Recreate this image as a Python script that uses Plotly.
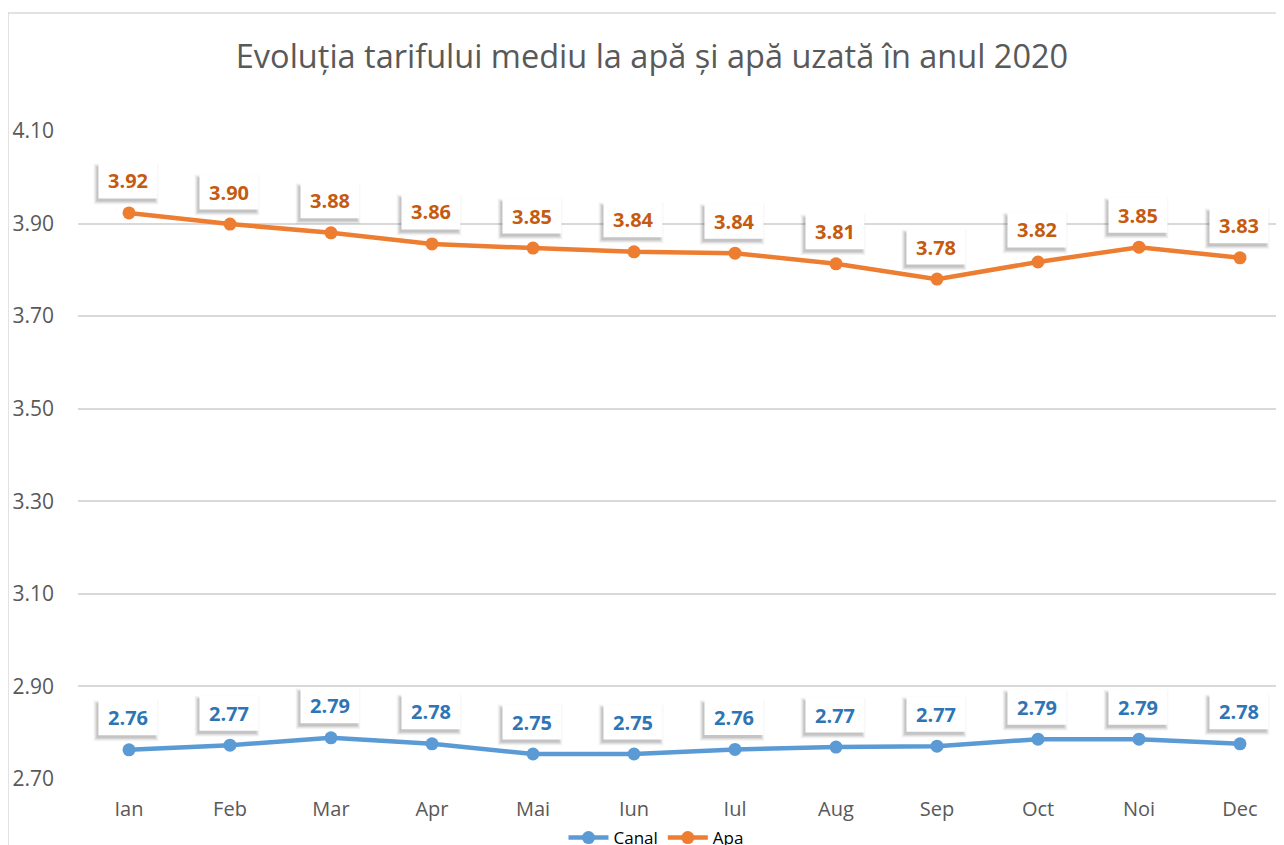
import plotly.graph_objects as go

# data
months = ["Ian", "Feb", "Mar", "Apr", "Mai", "Iun", "Iul", "Aug", "Sep", "Oct", "Noi", "Dec"]
canal = [2.763, 2.773, 2.789, 2.776, 2.754, 2.754, 2.764, 2.769, 2.771, 2.786, 2.786, 2.776]
apa = [3.923, 3.899, 3.880, 3.856, 3.847, 3.839, 3.836, 3.813, 3.780, 3.817, 3.849, 3.826]
y_ticks = [2.70, 2.90, 3.10, 3.30, 3.50, 3.70, 3.90, 4.10]

title = "Evoluția tarifului mediu la apă și apă uzată în anul 2020"

BLUE = "#5B9BD5"
ORANGE = "#ED7D31"
BLUE_TXT = "#2E75B6"
ORANGE_TXT = "#C55A11"
GREY_TXT = "#595959"
GRID = "#D9D9D9"
FONT = "Open Sans"

# the page body adds an 8px offset, so work in figure pixels.
# figure is a bit taller than the window so the legend (cut off at the
# bottom in the reference) does not push the margins.
OFF = 8
W, H = 1284 - OFF, 880
PL, PR, PT, PB = 78 - OFF, W, 131 - OFF, 779 - OFF  # plot area
STEP = 101  # pixels between categories
FIRST = 129 - OFF  # pixel of first category

# label box, in pixels relative to its point
BOX_W, BOX_H, BOX_DX, BOX_DY = 59, 35, -1, 32


def paper_x(px):
    return (px - PL) / (PR - PL)


def paper_y(py):
    return (PB - py) / (PB - PT)


fig = go.Figure()

for name, vals, col in [("Canal", canal, BLUE), ("Apa", apa, ORANGE)]:
    fig.add_trace(
        go.Scatter(
            x=list(range(len(months))),
            y=vals,
            name=name,
            mode="lines+markers",
            line=dict(color=col, width=4.5),
            marker=dict(color=col, size=13),
            hoverinfo="skip",
        )
    )

# data labels: white boxes with a soft shadow, text on top
shapes = []
annotations = []
for vals, txtcol in [(canal, BLUE_TXT), (apa, ORANGE_TXT)]:
    for i, v in enumerate(vals):
        boxes = [(3, 0.035, "rgba(0,0,0,{a})"), (2, 0.05, "rgba(0,0,0,{a})"),
                 (1, 0.07, "rgba(0,0,0,{a})"), (0, 0.09, "rgba(0,0,0,{a})")]
        for grow, a, fmt in boxes:
            cx, cy = BOX_DX - 2, BOX_DY - 3
            shapes.append(dict(
                type="rect", xref="x", yref="y",
                xsizemode="pixel", ysizemode="pixel", xanchor=i, yanchor=v,
                x0=cx - BOX_W / 2 - grow, x1=cx + BOX_W / 2 + grow,
                y0=cy - BOX_H / 2 - grow, y1=cy + BOX_H / 2 + grow,
                fillcolor=fmt.format(a=a), line=dict(width=0), layer="above",
            ))
        shapes.append(dict(
            type="rect", xref="x", yref="y",
            xsizemode="pixel", ysizemode="pixel", xanchor=i, yanchor=v,
            x0=BOX_DX - BOX_W / 2, x1=BOX_DX + BOX_W / 2,
            y0=BOX_DY - BOX_H / 2, y1=BOX_DY + BOX_H / 2,
            fillcolor="white", line=dict(width=0), layer="above",
        ))
        annotations.append(dict(
            x=i, y=v, xref="x", yref="y", text=f"{v:.2f}", showarrow=False,
            font=dict(family=FONT, size=20, color=txtcol, weight="bold"),
            xshift=BOX_DX, yshift=BOX_DY,
        ))

# chart border (top and left edges visible in the window)
shapes.append(dict(
    type="rect", xref="paper", yref="paper",
    x0=paper_x(8 - OFF), x1=paper_x(W + 20),
    y0=paper_y(H + 20), y1=paper_y(13 - OFF),
    line=dict(color=GRID, width=1.5),
    fillcolor="rgba(0,0,0,0)",
    layer="below",
))

fig.update_layout(
    width=W,
    height=H,
    margin=dict(l=PL, r=W - PR, t=PT, b=H - PB),
    plot_bgcolor="white",
    paper_bgcolor="white",
    font=dict(family=FONT, color=GREY_TXT),
    title=dict(
        text=title,
        x=paper_x(652 - OFF), xref="paper", xanchor="center",
        y=1 - (57 - OFF) / H, yanchor="middle",
        font=dict(family=FONT, size=32.5, color=GREY_TXT),
    ),
    xaxis=dict(
        tickmode="array",
        tickvals=list(range(len(months))),
        ticktext=months,
        range=[-(FIRST - PL) / STEP, (PR - FIRST) / STEP],
        showgrid=False,
        zeroline=False,
        showline=False,
        ticks="",
        ticklabelstandoff=16,
        tickfont=dict(family=FONT, size=20, color=GREY_TXT),
        fixedrange=True,
    ),
    yaxis=dict(
        tickmode="array",
        tickvals=y_ticks,
        ticktext=[f"{t:.2f}" for t in y_ticks],
        range=[2.70, 4.10],
        showgrid=True,
        gridcolor=GRID,
        gridwidth=1.5,
        zeroline=False,
        showline=False,
        ticks="",
        ticklabelstandoff=23,
        tickfont=dict(family=FONT, size=21, color=GREY_TXT),
        fixedrange=True,
    ),
    showlegend=True,
    legend=dict(
        orientation="h",
        x=paper_x(656 - OFF), xanchor="center",
        y=paper_y(838 - OFF), yanchor="middle",
        font=dict(family=FONT, size=17, color="#000000"),
        bgcolor="rgba(0,0,0,0)",
        itemwidth=40,
    ),
    annotations=annotations,
    shapes=shapes,
)

fig.write_html("out.html")
